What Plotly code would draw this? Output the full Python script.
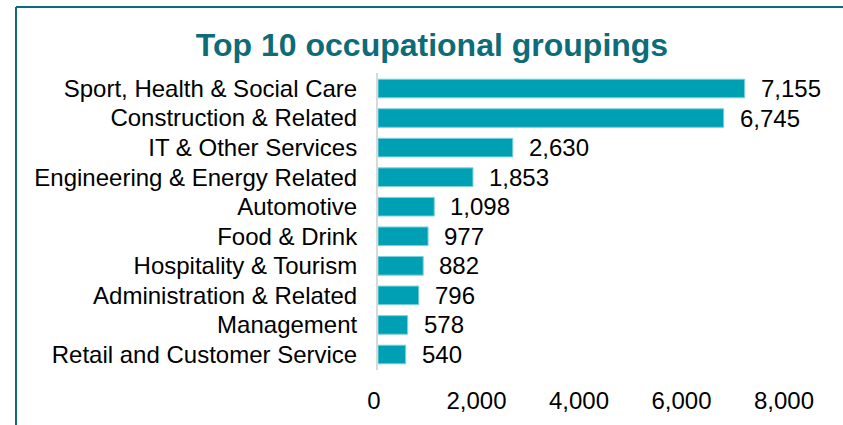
import plotly.graph_objects as go

categories = [
    "Sport, Health & Social Care",
    "Construction & Related",
    "IT & Other Services",
    "Engineering & Energy Related",
    "Automotive",
    "Food & Drink",
    "Hospitality & Tourism",
    "Administration & Related",
    "Management",
    "Retail and Customer Service",
]
values = [7155, 6745, 2630, 1853, 1098, 977, 882, 796, 578, 540]
x_ticks = [0, 2000, 4000, 6000, 8000]
x_tick_labels = ["0", "2,000", "4,000", "6,000", "8,000"]

FONT = "Liberation Sans"
BAR = "#00A0B4"
TEAL = "#0E6B78"

W, H = 843, 425
L, R, T, B = 378, 55, 73, 55
PW, PH = W - L - R, H - T - B

fig = go.Figure()
fig.add_trace(go.Bar(
    x=values, y=categories, orientation="h",
    marker=dict(color=BAR, line=dict(color="#7fd0da", width=1)),
    hoverinfo="x+y",
))

for v, c in zip(values, categories):
    fig.add_annotation(x=v, y=c, text=f"{v:,}", showarrow=False,
                       xanchor="left", yanchor="middle", xshift=14,
                       font=dict(family=FONT, size=24, color="#000000"))

fig.update_layout(
    width=W, height=H,
    margin=dict(l=L, r=R, t=T, b=B),
    paper_bgcolor="white", plot_bgcolor="white",
    showlegend=False,
    bargap=0.37,
    font=dict(family=FONT, size=24, color="#000000"),
    title=dict(text="<b>Top 10 occupational groupings</b>",
               x=432 / W, xanchor="center", y=1 - 45 / H, yanchor="middle",
               font=dict(family=FONT, size=32, color=TEAL)),
    xaxis=dict(range=[0, 8000], tickvals=x_ticks, ticktext=x_tick_labels,
               showgrid=False, zeroline=False, showline=False,
               ticks="outside", ticklen=9, tickcolor="rgba(0,0,0,0)",
               ticklabelshift=-4,
               tickfont=dict(family=FONT, size=24, color="#000000"),
               automargin=False),
    yaxis=dict(categoryorder="array", categoryarray=categories[::-1],
               showgrid=False, zeroline=False, showline=True,
               linecolor="#D9D9D9", linewidth=2,
               ticks="outside", ticklen=14, tickcolor="rgba(0,0,0,0)",
               tickfont=dict(family=FONT, size=24, color="#000000"),
               automargin=False),
    shapes=[
        dict(type="line", xref="paper", yref="paper",
             x0=-(L - 16) / PW, x1=(W - L + 5) / PW,
             y0=(H - B - 7) / PH, y1=(H - B - 7) / PH,
             line=dict(color=TEAL, width=2)),
        dict(type="line", xref="paper", yref="paper",
             x0=-(L - 16) / PW, x1=-(L - 16) / PW,
             y0=(H - B - 7) / PH, y1=-(B + 5) / PH,
             line=dict(color=TEAL, width=2)),
    ],
)

fig.write_html("out.html", config={"displayModeBar": False},
               post_script="document.body.style.margin='0';document.body.style.overflow='hidden';")
